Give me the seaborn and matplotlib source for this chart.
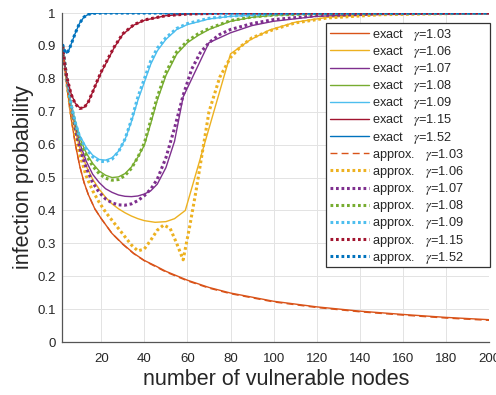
import numpy as np
import pandas as pd
import matplotlib
matplotlib.use("Agg")
import matplotlib.pyplot as plt
from matplotlib.patches import Rectangle
import seaborn as sns

# ---------------- data ----------------
gammas = ["1.03", "1.06", "1.07", "1.08", "1.09", "1.15", "1.52"]
colors = ["#D95319", "#EDB120", "#7E2F8E", "#77AC30", "#4DBEEE", "#A2142F", "#0072BD"]

# exact curves
ex_103_x = [2, 4, 6, 8, 10, 12, 14, 17, 20, 25, 30, 35, 40, 45, 50, 60, 70, 80, 100, 120, 140, 160, 180, 200]
ex_103_y = [0.90, 0.78, 0.68, 0.60, 0.535, 0.485, 0.448, 0.405, 0.375, 0.33, 0.298, 0.27, 0.248, 0.232,
            0.215, 0.188, 0.166, 0.149, 0.124, 0.107, 0.094, 0.084, 0.075, 0.068]

ex_106_x = [2, 4, 6, 8, 10, 13, 16, 19, 22, 25, 28, 31, 34, 37, 40, 45, 50, 54, 59, 80, 89, 98, 110, 125, 150, 200]
ex_106_y = [0.90, 0.79, 0.705, 0.64, 0.59, 0.535, 0.495, 0.465, 0.44, 0.42, 0.405, 0.393, 0.383, 0.375,
            0.369, 0.364, 0.366, 0.375, 0.40, 0.876, 0.918, 0.948, 0.972, 0.987, 0.996, 1.0]

ex_107_x = [2, 4, 6, 8, 10, 13, 16, 19, 22, 25, 28, 31, 34, 37, 40, 43, 46, 50, 54, 58, 70, 80, 90, 100, 120, 150, 200]
ex_107_y = [0.90, 0.80, 0.72, 0.655, 0.605, 0.55, 0.51, 0.485, 0.466, 0.455, 0.447, 0.443, 0.442, 0.444,
            0.45, 0.46, 0.48, 0.53, 0.61, 0.745, 0.91, 0.94, 0.962, 0.975, 0.99, 0.997, 1.0]

ex_108_x = [2, 4, 6, 8, 10, 13, 16, 19, 22, 25, 28, 31, 34, 37, 40, 43, 46, 50, 55, 60, 65, 70, 80, 90, 100, 120, 150, 200]
ex_108_y = [0.90, 0.80, 0.725, 0.665, 0.62, 0.575, 0.543, 0.52, 0.507, 0.50, 0.502, 0.512, 0.532, 0.562,
            0.598, 0.665, 0.735, 0.81, 0.875, 0.91, 0.932, 0.95, 0.975, 0.987, 0.993, 0.998, 1.0, 1.0]

ex_109_x = [2, 4, 6, 8, 10, 13, 16, 19, 22, 25, 28, 31, 34, 37, 40, 43, 46, 50, 55, 60, 70, 80, 100, 130, 200]
ex_109_y = [0.90, 0.80, 0.725, 0.67, 0.628, 0.592, 0.568, 0.555, 0.553, 0.56, 0.58, 0.615, 0.67, 0.735,
            0.79, 0.845, 0.885, 0.92, 0.95, 0.965, 0.982, 0.99, 0.997, 1.0, 1.0]

ex_115_x = [2, 3, 4, 6, 8, 10, 12, 14, 16, 18, 20, 23, 26, 30, 35, 40, 50, 60, 80, 100, 150, 200]
ex_115_y = [0.90, 0.845, 0.805, 0.755, 0.725, 0.712, 0.713, 0.73, 0.76, 0.79, 0.82, 0.857, 0.895, 0.935,
            0.963, 0.978, 0.992, 0.997, 1.0, 1.0, 1.0, 1.0]

ex_152_x = [2, 3, 4, 5, 6, 8, 10, 12, 14, 16, 20, 30, 50, 100, 200]
ex_152_y = [0.905, 0.885, 0.878, 0.888, 0.905, 0.94, 0.97, 0.988, 0.996, 0.999, 1.0, 1.0, 1.0, 1.0, 1.0]

# approximate curves
ap_103_x = [2, 4, 6, 8, 10, 12, 14, 17, 20, 25, 30, 35, 40, 45, 50, 60, 70, 80, 100, 120, 140, 160, 180, 200]
ap_103_y = [0.90, 0.78, 0.68, 0.60, 0.535, 0.485, 0.448, 0.405, 0.375, 0.33, 0.297, 0.269, 0.247, 0.23,
            0.213, 0.186, 0.164, 0.147, 0.122, 0.105, 0.092, 0.082, 0.073, 0.066]

ap_106_x = [2, 4, 6, 8, 10, 13, 16, 19, 22, 25, 28, 31, 34, 37, 40, 43, 46, 49, 52, 55, 58, 61, 64, 67, 70,
            75, 80, 85, 90, 100, 110, 125, 150, 200]
ap_106_y = [0.90, 0.785, 0.695, 0.625, 0.57, 0.505, 0.46, 0.425, 0.395, 0.37, 0.345, 0.32, 0.295, 0.277,
            0.283, 0.31, 0.34, 0.356, 0.345, 0.30, 0.25, 0.35, 0.46, 0.58, 0.70, 0.805, 0.865, 0.9, 0.925,
            0.95, 0.97, 0.985, 0.995, 1.0]

ap_107_x = [2, 4, 6, 8, 10, 13, 16, 19, 22, 25, 28, 31, 34, 37, 40, 43, 46, 50, 54, 58, 62, 66, 70, 75, 80,
            90, 100, 120, 150, 200]
ap_107_y = [0.90, 0.80, 0.715, 0.645, 0.59, 0.53, 0.485, 0.455, 0.435, 0.423, 0.417, 0.416, 0.42, 0.43,
            0.445, 0.465, 0.495, 0.56, 0.65, 0.75, 0.83, 0.88, 0.91, 0.935, 0.95, 0.968, 0.98, 0.992, 0.998, 1.0]

ap_108_x = [2, 4, 6, 8, 10, 13, 16, 19, 22, 25, 28, 31, 34, 37, 40, 43, 46, 50, 55, 60, 65, 70, 80, 90, 100, 120, 150, 200]
ap_108_y = [0.90, 0.80, 0.72, 0.66, 0.615, 0.568, 0.535, 0.512, 0.498, 0.492, 0.494, 0.506, 0.528, 0.562,
            0.605, 0.675, 0.745, 0.82, 0.882, 0.915, 0.937, 0.953, 0.977, 0.988, 0.994, 0.998, 1.0, 1.0]

ap_109_x = [2, 4, 6, 8, 10, 13, 16, 19, 22, 25, 28, 31, 34, 37, 40, 43, 46, 50, 55, 60, 70, 80, 100, 130, 200]
ap_109_y = [0.90, 0.80, 0.722, 0.665, 0.623, 0.587, 0.563, 0.55, 0.548, 0.556, 0.578, 0.617, 0.675, 0.745,
            0.80, 0.855, 0.893, 0.925, 0.953, 0.968, 0.984, 0.991, 0.997, 1.0, 1.0]

ap_115_x = ex_115_x
ap_115_y = [0.90, 0.845, 0.805, 0.753, 0.723, 0.71, 0.712, 0.73, 0.76, 0.792, 0.822, 0.86, 0.897, 0.937,
            0.964, 0.979, 0.992, 0.997, 1.0, 1.0, 1.0, 1.0]

ap_152_x = ex_152_x
ap_152_y = [0.905, 0.885, 0.878, 0.888, 0.905, 0.94, 0.97, 0.988, 0.996, 0.999, 1.0, 1.0, 1.0, 1.0, 1.0]

exact = [(ex_103_x, ex_103_y), (ex_106_x, ex_106_y), (ex_107_x, ex_107_y), (ex_108_x, ex_108_y),
         (ex_109_x, ex_109_y), (ex_115_x, ex_115_y), (ex_152_x, ex_152_y)]
approx = [(ap_103_x, ap_103_y), (ap_106_x, ap_106_y), (ap_107_x, ap_107_y), (ap_108_x, ap_108_y),
          (ap_109_x, ap_109_y), (ap_115_x, ap_115_y), (ap_152_x, ap_152_y)]

x_ticks = [20, 40, 60, 80, 100, 120, 140, 160, 180, 200]
y_ticks = [0, 0.1, 0.2, 0.3, 0.4, 0.5, 0.6, 0.7, 0.8, 0.9, 1]
y_ticklabels = ["0", "0.1", "0.2", "0.3", "0.4", "0.5", "0.6", "0.7", "0.8", "0.9", "1"]

# ---------------- plotting ----------------
sns.set_theme(style="whitegrid")
plt.rcParams["font.family"] = ["Liberation Sans", "DejaVu Sans"]
plt.rcParams["mathtext.fontset"] = "stix"

fig = plt.figure(figsize=(4.96, 3.95), dpi=100)
ax = fig.add_axes([0.126, 0.134, 0.86, 0.833])

for (xs, ys), g, c in zip(exact, gammas, colors):
    df = pd.DataFrame({"x": xs, "y": ys})
    sns.lineplot(data=df, x="x", y="y", ax=ax, color=c, linewidth=1.0, sort=False,
                 estimator=None, label=f"exact   $\\gamma$=" + g)

for i, ((xs, ys), g, c) in enumerate(zip(approx, gammas, colors)):
    df = pd.DataFrame({"x": xs, "y": ys})
    if i == 0:
        ls, lw = (0, (5, 3)), 1.0
    else:
        ls, lw = (0, (0.9, 0.9)), 2.2
    sns.lineplot(data=df, x="x", y="y", ax=ax, color=c, linewidth=lw, linestyle=ls, sort=False,
                 estimator=None, label=f"approx.   $\\gamma$=" + g)

ax.set_xlim(2, 200)
ax.set_ylim(0, 1)
ax.set_xticks(x_ticks)
ax.set_yticks(y_ticks)
ax.set_yticklabels(y_ticklabels)
ax.tick_params(axis="both", labelsize=9.5, colors="#262626", direction="in", length=3.5, width=0.8,
               labelcolor="#262626", pad=5)
ax.tick_params(axis="x", pad=8)
ax.grid(True, color="#e3e3e3", linewidth=0.7)
for side in ["top", "right"]:
    ax.spines[side].set_visible(False)
for side in ["left", "bottom"]:
    ax.spines[side].set_color("#555555")
    ax.spines[side].set_linewidth(0.9)
ax.set_facecolor("white")

ax.set_xlabel("number of vulnerable nodes", fontsize=15.5, color="#262626", labelpad=3)
ax.set_ylabel("infection probability", fontsize=15.5, color="#262626", labelpad=2)

# legend box (drawn separately so it can be wider than its content, as in the reference)
box_l, box_b, box_r, box_t = 0.6177, 0.2292, 1.002, 0.9708
ax.add_patch(Rectangle((box_l, box_b), box_r - box_l, box_t - box_b, transform=ax.transAxes,
                       facecolor="white", edgecolor="#333333", linewidth=0.9, zorder=4.5, clip_on=False))

leg = ax.legend(loc="upper left", bbox_to_anchor=(box_l, box_t), fontsize=9.2, frameon=False,
                labelspacing=0.09, handlelength=3.05, handletextpad=0.27, borderpad=0.32,
                borderaxespad=0.0)
leg.set_zorder(5)
for t in leg.get_texts():
    t.set_color("#262626")

fig.savefig("out.png", dpi=100, facecolor="white")
